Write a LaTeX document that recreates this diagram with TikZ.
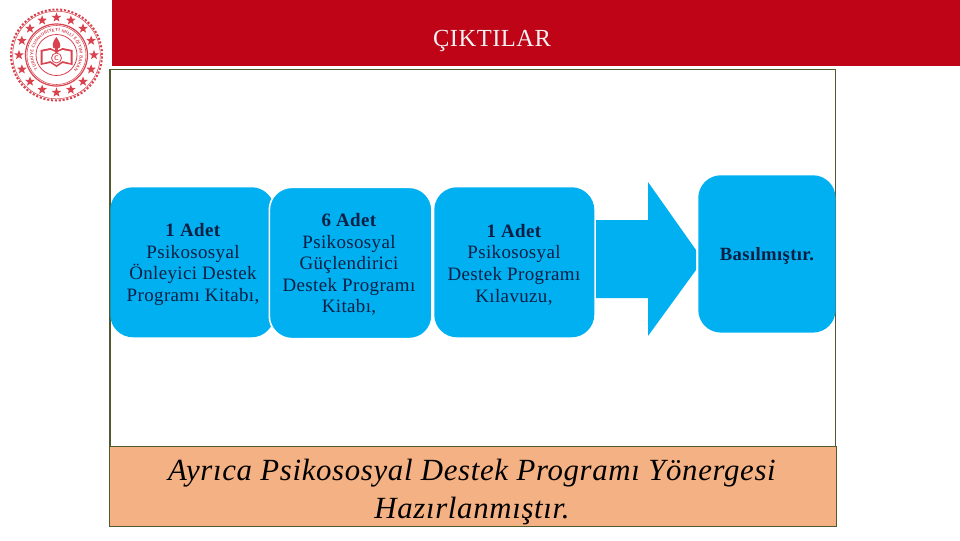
\documentclass[tikz,border=0pt]{standalone}
\usepackage{fontspec}
\setmainfont{Liberation Serif}
\newfontfamily\boxfont[LetterSpace=2]{Liberation Serif}
\newfontfamily\noteFont[LetterSpace=2.2]{Liberation Serif}
\usetikzlibrary{shapes.geometric,decorations.text}
\definecolor{hdrred}{HTML}{BE0416}
\definecolor{cyanfill}{HTML}{00B0F0}
\definecolor{framegreen}{HTML}{4F5B2E}
\definecolor{notefill}{HTML}{F4B183}
\definecolor{inkblue}{HTML}{0B1F45}
\definecolor{logored}{HTML}{D8434F}
\tikzset{
  card/.style={fill=cyanfill,draw=none,rounded corners=17pt,inner sep=0pt},
  cardtext/.style={text=inkblue,align=center,inner sep=0pt,
    font=\boxfont\fontsize{14.2pt}{16.2pt}\selectfont},
  logostar/.style={star,star points=5,star point ratio=2.4,fill=logored,draw=none,
    minimum size=7.6pt,inner sep=0pt}
}
\begin{document}
\begin{tikzpicture}[x=0.75pt,y=-0.75pt]
\useasboundingbox (0,0) rectangle (960,540);
\fill[white] (0,0) rectangle (960,540);
% header
\node[fill=hdrred,minimum width=636pt,minimum height=49.5pt,inner sep=0pt,anchor=north west] (header) at (112,0) {};
\node[text=black!5,font=\boxfont\fontsize{18.4pt}{20pt}\selectfont,inner sep=0pt] (title) at (492,41) {ÇIKTILAR};
% frame
\node[draw=framegreen,line width=1.3pt,fill=white,minimum width=544.2pt,minimum height=283.5pt,
  inner sep=0pt,anchor=north west] (frame) at (109,68.5) {};
% note
\node[draw=framegreen,line width=0.9pt,fill=notefill,minimum width=545pt,minimum height=60pt,
  inner sep=0pt,anchor=north west] (note) at (109,446) {};
\node[inner sep=0pt,text=black,align=center,
  font=\noteFont\itshape\fontsize{23.1pt}{29.2pt}\selectfont] (notetext) at (472,492)
  {Ayrıca Psikososyal Destek Programı Yönergesi\\Hazırlanmıştır.};
% cards
\node[card,minimum width=123pt,minimum height=112.5pt,anchor=north west] (c1) at (110,187) {};
\node[card,draw=white,line width=1.2pt,minimum width=122pt,minimum height=113.5pt,anchor=north west] (c2) at (268.5,186.5) {};
\node[card,minimum width=120pt,minimum height=112.5pt,anchor=north west] (c3) at (434,187) {};
\node[card,minimum width=103pt,minimum height=118pt,anchor=north west] (c4) at (698,175) {};
\node[cardtext] (t1) at (193,264.5)
  {\textbf{1 Adet}\\Psikososyal\\Önleyici Destek\\Programı Kitabı,};
\node[cardtext] (t2) at (349,264.5)
  {\textbf{6 Adet}\\Psikososyal\\Güçlendirici\\Destek Programı\\Kitabı,};
\node[cardtext] (t3) at (514,264.5)
  {\textbf{1 Adet}\\Psikososyal\\Destek Programı\\Kılavuzu,};
\node[text=inkblue,font=\boxfont\bfseries\fontsize{14pt}{15pt}\selectfont,inner sep=0pt] (t4) at (767,256) {Basılmıştır.};
% block arrow
\fill[cyanfill] (596,220) -- (648,220) -- (648,182) -- (696,250) -- (696,270) -- (648,336) -- (648,298) -- (596,298) -- cycle;
% logo
\begin{scope}[shift={(56.5,55)},y=0.75pt]
  \draw[logored,line width=1.5pt,dash pattern=on 1.6pt off 1.3pt] (0,0) circle[radius=45.5];
  \draw[logored,line width=0.4pt] (0,0) circle[radius=43.8];
  \foreach \i in {0,...,15}{
    \node[logostar] (star\i) at ({90-22.5*\i}:37.5) {};
  }
  \draw[logored,line width=0.9pt] (0,0) circle[radius=31];
  \draw[logored,line width=0.4pt] (0,0) circle[radius=29.5];
  \draw[logored,line width=0.6pt] (0,0) circle[radius=20.5];
  \path[decorate,decoration={text along path,
      text={|\sffamily\bfseries\fontsize{3.3pt}{4pt}\selectfont\color{logored}|TÜRKİYE CUMHURİYETİ MİLLİ EĞİTİM BAKANLIĞI},
      text align=fit to path}]
     (218:23.2) arc[start angle=218,end angle=-38,radius=23.2];
  % book
  \fill[logored] (-16,-10) -- (-16,5) -- (-6,7) -- (0,4) -- (6,7) -- (16,5) -- (16,-10) -- (6,-8) -- (0,-12) -- (-6,-8) -- cycle;
  \fill[white] (-14,-8) -- (-14,3.5) -- (-6,5) -- (0,2.5) -- (6,5) -- (14,3.5) -- (14,-8) -- (6,-6) -- (0,-10) -- (-6,-6) -- cycle;
  % torch
  \fill[logored] (0,18) .. controls (-5,12) and (-4,9) .. (-3,7) -- (3,7) .. controls (5,10) and (3,13) .. (0,18) -- cycle;
  \fill[logored] (-1.6,7) -- (1.6,7) -- (1,0) -- (-1,0) -- cycle;
  \draw[logored,fill=white,line width=0.6pt] (0,-3) circle[radius=5];
  \node[text=logored,inner sep=0pt,font=\sffamily\bfseries\fontsize{5pt}{5pt}\selectfont] (crest) at (0,-3) {C};
\end{scope}
\end{tikzpicture}
\end{document}
